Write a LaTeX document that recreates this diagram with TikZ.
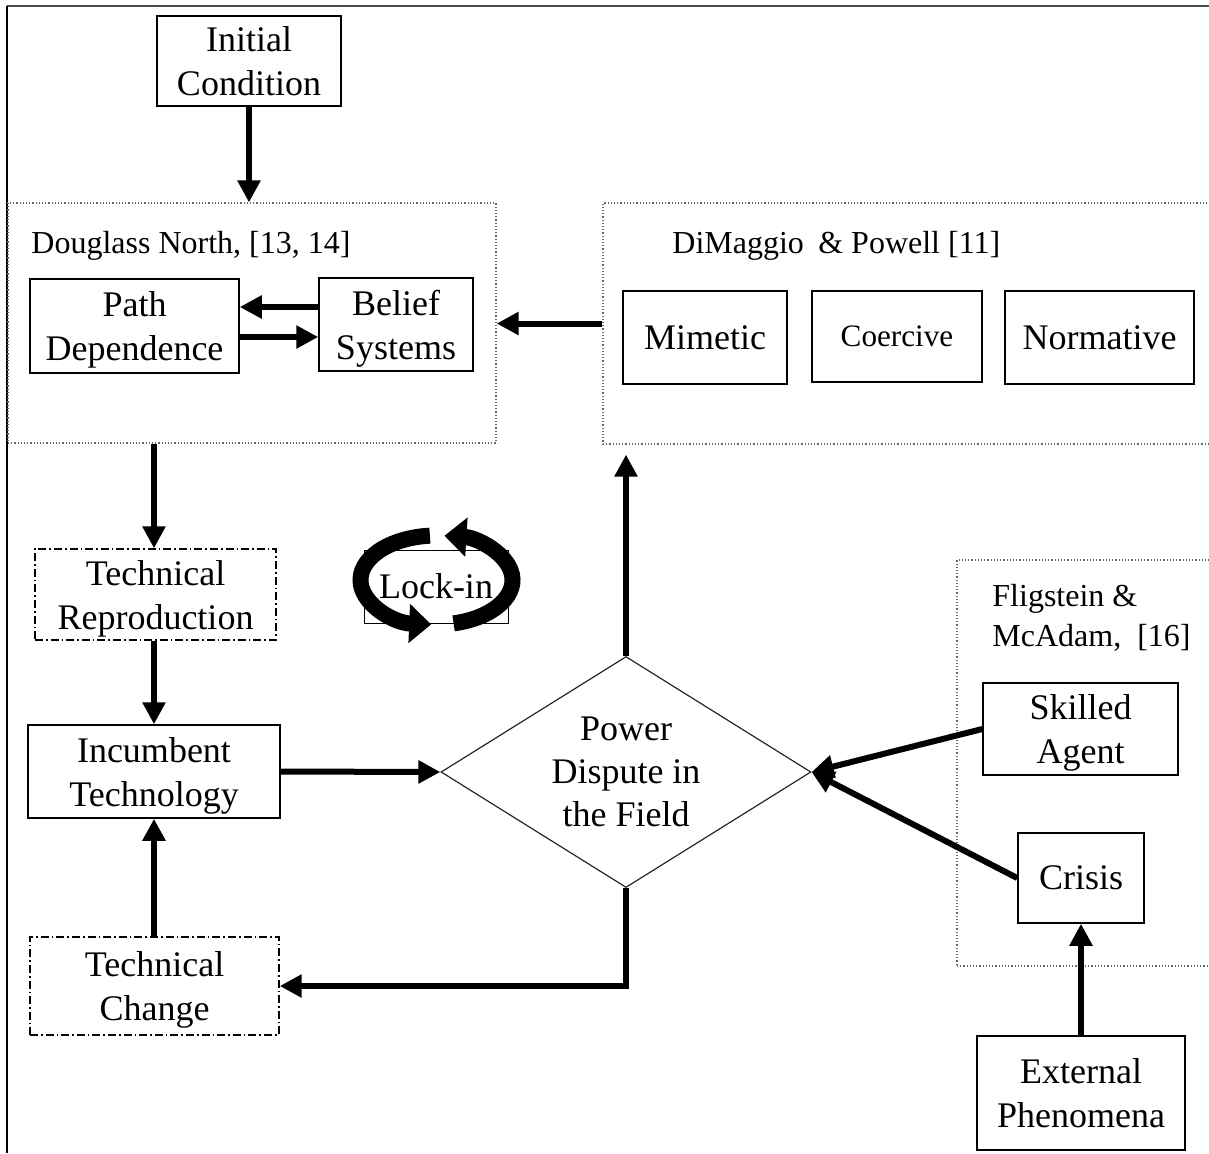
\documentclass[tikz,border=0pt]{standalone}
\usepackage{fontspec}
\setmainfont{Liberation Serif}
\usetikzlibrary{arrows.meta,shapes.geometric,calc}

\begin{document}
\begin{tikzpicture}[x=0.5pt,y=-0.5pt,
  box/.style={draw, line width=0.75pt, inner sep=0pt, align=center, text depth=0pt,
    font=\fontsize{18}{22}\selectfont},
  dashbox/.style={box, line width=0.7pt, dash pattern=on 4pt off 1.5pt on 0.8pt off 1.5pt},
  group/.style={draw=black!60, densely dotted, line width=0.6pt, inner sep=0pt},
  grouptitle/.style={font=\fontsize{16}{20}\selectfont, inner sep=0pt, anchor=base west},
  conn/.style={line width=3pt, -{Triangle[length=11pt,width=11pt]}},
  loop/.style={line width=8pt, -{Triangle[length=11pt,width=19pt]}}
]
\clip (0,0) rectangle (1209,1153);

% outer frame
\draw[line width=1pt, black!70] (7,6) -- (1209,6);
\draw[line width=1pt] (7,6) -- (7,1153);

% group frames
\node[group, minimum width=244pt, minimum height=120pt] (north) at (252,323) {};
\node[group, minimum width=306pt, minimum height=120.5pt] (dim) at (909,323.5) {};
\node[group, minimum width=128pt, minimum height=203pt] (flig) at (1085,763) {};

\node[grouptitle] (northtitle) at (31,253) {Douglass North, [13, 14]};
\node[grouptitle] (dimtitle) at (672,253) {DiMaggio\hspace{0.45em}\& Powell [11]};
\node[grouptitle] (fligtitleA) at (992,606) {Fligstein \&};
\node[grouptitle] (fligtitleB) at (992,646) {McAdam,\ \ [16]};

% boxes
\node[box, minimum width=92pt, minimum height=45pt] (init) at (249,61) {Initial\\Condition};
\node[box, minimum width=104.5pt, minimum height=47pt] (path) at (134.5,326) {Path\\Dependence};
\node[box, minimum width=77pt, minimum height=46.5pt] (belief) at (396,324.5) {Belief\\Systems};
\node[box, minimum width=82pt, minimum height=46.5pt] (mimetic) at (705,337.5) {Mimetic};
\node[box, minimum width=85pt, minimum height=45.5pt, font=\fontsize{15.6}{19}\selectfont] (coercive) at (897,336.5) {Coercive};
\node[box, minimum width=94.5pt, minimum height=46.5pt] (normative) at (1099.5,337.5) {Normative};
\node[dashbox, minimum width=120.5pt, minimum height=45.5pt] (techrep) at (155.5,594.5) {Technical\\Reproduction};
\node[box, minimum width=126pt, minimum height=46.5pt] (incumbent) at (154,771.5) {Incumbent\\Technology};
\node[dashbox, minimum width=124.5pt, minimum height=49pt] (techchange) at (154.5,986) {Technical\\Change};
\node[box, minimum width=97.5pt, minimum height=46pt] (skilled) at (1080.5,729) {Skilled\\Agent};
\node[box, minimum width=63pt, minimum height=45pt] (crisis) at (1081,878) {Crisis};
\node[box, minimum width=104pt, minimum height=57pt] (external) at (1081,1093) {External\\Phenomena};

% central decision diamond
\node[diamond, draw=black!85, line width=0.6pt, inner sep=0pt,
  minimum width=185pt, minimum height=115.5pt] (pd) at (626,772) {};
\node[font=\fontsize{18}{21.5}\selectfont, align=center, inner sep=0pt] (pdtext) at (626,772)
  {Power\\Dispute in\\the Field};

% lock-in symbol
\node[draw, line width=0.5pt, minimum width=72pt, minimum height=36.5pt, inner sep=0pt,
  font=\fontsize{18}{22}\selectfont] (lock) at (436,586.5) {Lock-in};
\coordinate (lc) at (436.5,580);
\draw[loop] ([shift={(95:38pt and 22.25pt)}]lc)
  arc[start angle=95, end angle=266, x radius=38pt, y radius=22.25pt];
\draw[loop] ([shift={(-77:38pt and 22.25pt)}]lc)
  arc[start angle=-77, end angle=84, x radius=38pt, y radius=22.25pt];

% connectors
\coordinate (yup) at (0,307);
\coordinate (ydown) at (0,337);
\draw[conn] (init.south) -- (init.south |- north.north);
\draw[conn] (belief.west |- yup) -- (path.east |- yup);
\draw[conn] (path.east |- ydown) -- (belief.west |- ydown);
\draw[conn] (dim.west) -- (dim.west -| north.east);
\draw[conn] (north.south -| 154,0) -- (techrep.north -| 154,0);
\draw[conn] (techrep.south -| 154,0) -- (incumbent.north -| 154,0);
\draw[conn] (techchange.north -| 154,0) -- (incumbent.south -| 154,0);
\draw[conn] (incumbent.east) -- (pd.west);
\draw[conn, shorten >=5pt] (pd.north) -- (pd.north |- dim.south);
\draw[conn] (pd.south) -- (pd.south |- techchange.east) -- (techchange.east);
\draw[conn] (skilled.west) -- (pd.east);
\draw[conn] (crisis.west) -- (pd.east);
\draw[conn] (external.north) -- (crisis.south);
\end{tikzpicture}
\end{document}
